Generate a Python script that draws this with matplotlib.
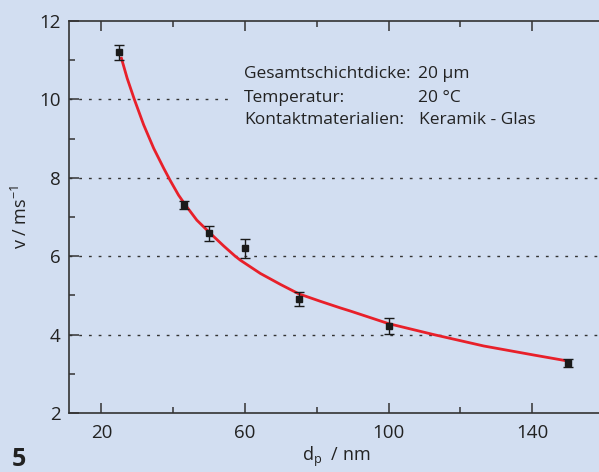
import matplotlib
matplotlib.use("Agg")
import matplotlib.pyplot as plt

# measured points: particle size d_p [nm], velocity v [m/s], error
d_p = [25, 43, 50, 60, 75, 100, 150]
v = [11.2, 7.3, 6.58, 6.2, 4.9, 4.22, 3.28]
v_err = [0.2, 0.1, 0.2, 0.25, 0.18, 0.2, 0.1]

# fitted curve
fit_d = [25.6, 27.2, 29.2, 31.8, 34.6, 37.4, 39.2, 41.5, 43.4, 46.6, 50.4,
         54.1, 57.3, 58.7, 64.3, 69.9, 75.0, 81.0, 86.6, 89.4, 100.0,
         112.6, 126.5, 140.4, 149.7]
fit_v = [11.05, 10.54, 10.0, 9.35, 8.75, 8.24, 7.93, 7.56, 7.31, 6.92, 6.58,
         6.26, 6.0, 5.9, 5.56, 5.28, 5.04, 4.85, 4.68, 4.6, 4.28,
         4.0, 3.71, 3.48, 3.33]

grid_y = [4, 6, 8]
x_ticks = [20, 60, 100, 140]
y_ticks = [2, 4, 6, 8, 10, 12]

bg = "#d2def1"
ink = "#333333"
txt = "#222222"

plt.rcParams['font.family'] = ['Open Sans', 'DejaVu Sans']

fig = plt.figure(figsize=(5.99, 4.72), dpi=100, facecolor=bg)
ax = fig.add_axes([0.1152, 0.125, 0.893, 0.8305])
ax.set_facecolor(bg)

ax.set_xlim(11, 160)
ax.set_ylim(2, 12)

for g in grid_y:
    ax.axhline(g, color=ink, lw=1, linestyle=(0, (2, 5)), zorder=1)
ax.hlines(10, 11, 57, color=ink, lw=1, linestyle=(0, (2, 5)), zorder=1)

ax.plot(fit_d, fit_v, color="#e8202a", lw=2, zorder=2, solid_joinstyle="round")
ax.errorbar(d_p, v, yerr=v_err, fmt="s", color="#1a1a1a", ms=4,
            elinewidth=1, capsize=3.5, capthick=1, zorder=3)

ax.set_xticks(x_ticks)
ax.set_xticks([40, 80, 120], minor=True)
ax.set_yticks(y_ticks)
ax.set_yticks([3, 5, 7, 9, 11], minor=True)
ax.tick_params(which="both", direction="in", top=True, right=False,
               color=ink, width=1.1, labelsize=13.5, labelcolor=txt)
ax.tick_params(which="major", length=7, pad=6)
ax.tick_params(which="minor", length=4)
ax.tick_params(axis="x", which="major", pad=8)

for s in ["left", "bottom", "top"]:
    ax.spines[s].set_color(ink)
    ax.spines[s].set_linewidth(1.2)
ax.spines["right"].set_visible(False)

ax.set_xlabel("d$_\\mathregular{p}$  / nm", fontsize=13, color=txt, labelpad=2)
ax.set_ylabel("v / ms$^\\mathregular{-1}$", fontsize=13, color=txt, labelpad=6)

labels = ["Gesamtschichtdicke:", "Temperatur:", "Kontaktmaterialien:"]
values = ["20 µm", "20 °C", "Keramik - Glas"]
values_x = [108.1, 108.1, 108.6]
rows_y = [10.65, 10.04, 9.47]
for lab, val, vx, yy in zip(labels, values, values_x, rows_y):
    ax.text(59.7, yy, lab, fontsize=12.5, color=txt, va="center")
    ax.text(vx, yy, val, fontsize=12.5, color=txt, va="center")

fig.text(0.02, 0.012, "5", fontsize=18, fontweight="bold", color=txt)

fig.savefig("out.png", dpi=100, facecolor=bg)
